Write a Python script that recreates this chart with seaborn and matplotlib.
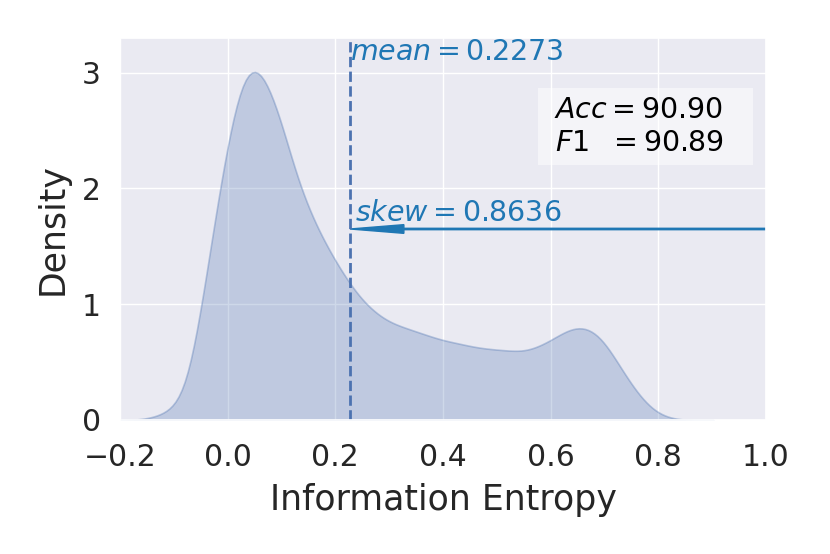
import numpy as np
import matplotlib
matplotlib.use("Agg")
import matplotlib.pyplot as plt
import seaborn as sns

# entropy bins and density
entropy = [-0.150, -0.125, -0.100, -0.075, -0.050, -0.025, 0.000, 0.025, 0.050, 0.075,
           0.100, 0.125, 0.150, 0.175, 0.200, 0.225, 0.250, 0.275, 0.300, 0.325,
           0.350, 0.375, 0.400, 0.425, 0.450, 0.475, 0.500, 0.525, 0.550, 0.575,
           0.600, 0.625, 0.650, 0.675, 0.700, 0.725, 0.750, 0.775, 0.800, 0.825]
density = [0.01, 0.04, 0.10, 0.26, 0.94, 1.74, 2.46, 3.03, 3.18, 2.98,
           2.64, 2.18, 1.86, 1.61, 1.40, 1.21, 1.05, 0.94, 0.86, 0.82,
           0.78, 0.74, 0.70, 0.68, 0.65, 0.63, 0.62, 0.61, 0.60, 0.64,
           0.70, 0.78, 0.83, 0.81, 0.70, 0.50, 0.31, 0.15, 0.05, 0.01]

mean_val = 0.2273
skew_val = 0.8636
acc = 90.90
f1 = 90.89

sns.set_theme(style="darkgrid")
plt.rcParams['font.family'] = ['DejaVu Sans']

fig, ax = plt.subplots(figsize=(8.3, 5.54), dpi=100)
fig.subplots_adjust(left=0.1446, right=0.9229, top=0.9314, bottom=0.2419)

w = np.array(density)
xs = np.array(entropy)
m = np.average(xs, weights=w)
sd = np.sqrt(np.average((xs - m) ** 2, weights=w))

deep = sns.color_palette("deep")
sns.kdeplot(x=entropy, weights=density, bw_method=0.02 / sd, fill=True,
            color=deep[0], alpha=0.27, edgecolor=(*deep[0], 0.35), linewidth=1.2, ax=ax)

ax.axvline(mean_val, color=deep[0], linestyle='--', linewidth=2)
ax.text(mean_val, 3.11, r'$mean = %.4f$' % mean_val, color='tab:blue', fontsize=20.5)

ax.arrow(1.0, 1.65, mean_val - 1.0, 0, width=0.012, head_width=0.075, head_length=0.1,
         length_includes_head=True, color='tab:blue')
ax.text(mean_val + 0.01, 1.72, r'$skew = %.4f$' % skew_val, color='tab:blue', fontsize=20.5)

box_txt = '$\\ Acc = %.2f$\n$\\ F1\\ \\ = %.2f$   ' % (acc, f1)
ax.text(0.592, 2.80, box_txt, fontsize=20.5,
        va='top', ha='left', color='black', linespacing=1.25,
        bbox=dict(boxstyle='square,pad=0.28', facecolor='white', edgecolor='none', alpha=0.5))

ax.set_xlim(-0.2, 1.0)
ax.set_ylim(0, 3.3)
ax.set_xticks([-0.2, 0.0, 0.2, 0.4, 0.6, 0.8, 1.0])
ax.set_yticks([0, 1, 2, 3])
ax.tick_params(labelsize=21.5)
ax.tick_params(axis='x', pad=10.8)
ax.tick_params(axis='y', pad=7.8)
ax.set_xlabel('Information Entropy', fontsize=25, labelpad=8)
ax.set_ylabel('Density', fontsize=25, labelpad=8.7)

fig.savefig('out.png', dpi=100)
